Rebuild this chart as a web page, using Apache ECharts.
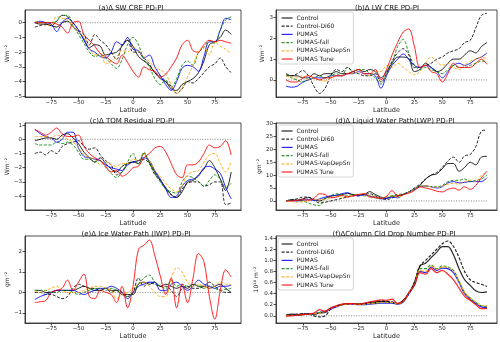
<!DOCTYPE html>
<html>
<head>
<meta charset="utf-8">
<script src="https://cdn.jsdelivr.net/npm/echarts@6/dist/echarts.min.js"></script>
<style>
  html, body { margin: 0; padding: 0; background: #fff; }
  #main { width: 500px; height: 342px; }
</style>
</head>
<body>
<div id="main"></div>
<script>
// latitude grid shared by every panel
const lat = [-90, -85, -80, -75, -70, -65, -60, -55, -50, -45, -40, -35, -30, -25, -20, -15, -10, -5, 0,
  5, 10, 15, 20, 25, 30, 35, 40, 45, 50, 55, 60, 65, 70, 75, 80, 85, 90]

const names = ['Control', 'Control-Di60', 'PUMAS', 'PUMAS-fall', 'PUMAS-VapDepSn', 'PUMAS Tune']

// (a) SW CRE
const swControl = [0, -0.1, -0.1, -0.2, -0.3, 0, 0.1, -0.3, -0.6, -1.1, -1.7, -1.5, -1.6, -2.2, -2.1, -2.0, -1.6, -1.2, -1.6, -2.3, -2.6, -2.9, -3.4, -3.8, -4.0, -4.5, -4.6, -4.2, -4.0, -3.8, -3.4, -2.6, -1.5, -1.3, -1.0, -0.5, -0.8]
const swDi60 = [-0.3, -0.2, -0.1, -0.2, 0.1, 0.5, 0.4, 0, -0.5, -0.8, -1.5, -0.8, -1.2, -1.5, -2.0, -2.5, -1.5, -1.2, -2.0, -2.0, -2.4, -2.8, -3.4, -3.6, -4.0, -4.3, -4.8, -4.5, -4.0, -4.1, -3.8, -3.4, -3.0, -2.8, -2.4, -3.0, -3.4]
const swPumas = [0, 0.1, 0, -0.1, -0.6, 0, 0.3, 0, -0.5, -1.2, -1.8, -2.0, -2.3, -2.4, -2.0, -1.3, -1.5, -1.0, -1.8, -1.9, -2.4, -2.2, -3.0, -3.6, -4.2, -4.6, -4.0, -3.1, -2.9, -3.0, -3.3, -2.3, -1.3, -1.3, -0.5, 0.3, 0.2]
const swFall = [0, 0, 0, 0, 0.1, 0.5, 0.5, -0.2, -0.8, -1.4, -2.0, -2.3, -2.2, -2.4, -2.8, -3.1, -2.5, -1.5, -1.0, -1.5, -2.5, -3.0, -3.8, -4.2, -3.9, -4.4, -3.8, -2.9, -2.6, -2.9, -2.0, -1.7, -1.2, -1.4, -0.5, 0.2, 0.4]
const swVap = [0.1, 0, -0.2, -0.1, 0.4, 0.3, 0.2, -0.3, -0.6, -1.0, -1.7, -2.2, -2.1, -2.8, -2.6, -2.3, -1.9, -2.0, -1.6, -2.0, -2.3, -2.6, -3.1, -3.2, -3.5, -4.2, -4.8, -4.4, -3.7, -2.9, -2.0, -1.6, -2.2, -1.3, -1.6, -1.8, -2.1]
const swTune = [0, 0, 0, 0, -0.1, -0.3, -0.7, 0, 0.1, -0.8, -1.2, -1.6, -2.1, -2.3, -2.6, -2.8, -2.2, -2.7, -3.3, -3.7, -3.0, -3.2, -3.3, -3.7, -3.5, -3.0, -2.4, -1.5, -1.2, -1.9, -2.0, -1.5, -1.2, -1.3, -1.2, -1.3, -1.4]

// (b) LW CRE
const lwControl = [0.3, 0.2, 0.2, 0.1, 0.1, 0.3, 0.2, 0.3, 0.3, 0.4, 0.3, 0.3, 0.4, 0.5, 0.4, 0.5, 0.4, 0.1, 0.4, 0.8, 1.1, 1.1, 1.0, 0.4, 0.5, 0.8, 0.6, 0.4, 0.5, 0.8, 1.0, 1.0, 1.2, 1.4, 1.3, 1.6, 1.8]
const lwDi60 = [0.2, 0.2, 0.3, 0.45, 0.2, -0.3, -0.65, -0.4, 0.2, 0.5, 0.4, 0.6, 0.4, 0.3, 0.2, 0.2, 0.3, -0.1, 0.3, 0.9, 1.3, 1.5, 1.2, 0.6, 0.6, 0.7, 0.8, 1.0, 1.1, 1.3, 1.4, 1.5, 1.8, 1.9, 2.5, 3.1, 3.2]
const lwPumas = [-0.3, -0.35, -0.3, -0.1, 0, 0.1, 0.1, 0.1, 0.2, 0.2, 0.2, 0.3, 0.3, 0.4, 0.3, 0.3, 0.2, -0.4, 0.2, 0.7, 1.0, 1.25, 1.0, 0.7, 0.6, 0.7, 0.6, 0.4, 0.1, 0.4, 0.7, 0.8, 0.7, 0.8, 1.0, 1.1, 1.3]
const lwFall = [0.3, 0.1, 0, -0.1, 0, 0.1, 0.2, 0.1, 0.2, 0.3, 0.2, 0.6, 0.4, 0.5, 0.5, 0.3, 0.1, -0.2, 0.3, 0.8, 1.6, 1.95, 1.3, 0.7, 0.5, 0.6, 0.5, 0.4, 0.3, 0.5, 0.7, 0.6, 0.6, 0.7, 0.8, 0.9, 0.9]
const lwVap = [0.2, 0.1, 0.1, 0.2, 0, 0.1, 0, -0.05, 0.1, 0.2, 0.2, 0.3, 0.3, 0.4, 0.3, 0.2, 0.4, 0.4, 0.7, 0.6, 0.8, 0.6, 0.4, 0.25, 0.4, 0.8, 1.1, 0.9, 0.7, 0.8, 0.6, 0.5, 0.7, 0.9, 1.0, 1.1, 1.0]
const lwTune = [0, -0.1, -0.1, 0.1, 0.2, 0.1, 0, 0.1, 0.1, 0.2, 0.2, 0.3, 0.4, 0.5, 0.3, 0.3, 0.5, 0, 0.5, 1.2, 1.8, 2.3, 2.45, 1.6, 0.6, 0.7, 0.4, 0.3, -0.1, 0.3, 0.8, 0.6, 0.6, 0.6, 0.8, 1.0, 0.75]

// (c) TOM residual
const tomControl = [-0.1, 0, 0.1, 0.1, 0, 0.3, 0.4, 0.1, -0.3, -0.9, -1.3, -1.6, -1.3, -1.7, -2.1, -2.3, -1.9, -1.7, -1.6, -1.7, -1.0, -1.6, -2.3, -2.9, -3.4, -3.9, -4.1, -3.7, -3.0, -2.9, -2.5, -2.1, -1.5, -2.0, -2.8, -3.6, -2.3]
const tomDi60 = [-1.0, -0.9, -1.1, -0.8, -1.0, -0.5, -0.3, -0.2, -0.1, -0.5, -0.7, -0.6, -1.1, -1.5, -1.8, -2.5, -2.3, -1.7, -1.6, -1.5, -1.4, -1.7, -2.5, -2.9, -3.5, -3.9, -4.1, -3.5, -3.1, -3.0, -3.0, -3.3, -3.2, -3.0, -3.0, -4.6, -4.5]
const tomPumas = [0.7, 0.4, 0.2, 0.1, -0.2, 0, 0.5, 0.5, -0.6, -1.2, -1.3, -1.4, -1.5, -1.8, -2.0, -2.1, -2.2, -1.8, -1.6, -1.5, -1.3, -1.5, -2.2, -2.8, -3.5, -4.1, -4.0, -3.3, -2.9, -2.8, -2.6, -2.0, -1.9, -2.1, -2.4, -3.4, -4.2]
const tomFall = [-0.3, -0.4, -0.4, -0.4, -0.2, -0.3, -0.2, -0.4, -0.9, -1.4, -1.4, -1.6, -1.5, -2.0, -2.4, -2.7, -2.3, -1.6, -1.0, -1.8, -0.9, -1.7, -2.4, -3.0, -3.5, -3.7, -3.8, -3.0, -2.6, -2.7, -3.0, -3.3, -2.9, -2.5, -2.8, -3.4, -3.1]
const tomVap = [0.2, 0.2, 0.2, 0.1, 0.3, 0.2, 0, -0.2, -0.6, -1.1, -1.3, -1.4, -1.8, -1.6, -1.8, -1.9, -1.7, -1.7, -1.4, -1.5, -1.0, -1.5, -2.2, -2.6, -3.1, -3.5, -3.7, -3.3, -2.5, -2.3, -2.2, -1.6, -1.1, -1.0, -1.7, -2.3, -1.6]
const tomTune = [0.7, 0.5, 0.3, 0.5, 0.8, 0.4, 0.2, 0.2, 0.3, -0.5, -1.0, -1.3, -1.5, -1.9, -2.3, -2.2, -2.6, -2.4, -2.0, -1.9, -1.3, -1.0, -0.6, -0.5, -0.9, -1.7, -2.5, -2.7, -1.8, -1.8, -1.6, -1.0, -0.4, -0.6, -0.5, -0.1, -1.1]

// (d) liquid water path
const lwpControl = [0, 0.5, 0.3, 0.8, 1.3, 0.5, 0, 1.0, 1.8, 2.2, 2.4, 3.0, 2.5, 2.5, 2.6, 3.6, 2.5, 1.5, 1.0, 1.8, 2.0, 2.5, 3.5, 4.5, 6.0, 8.5, 10.0, 10.5, 12.5, 14.5, 14.5, 11.5, 13.0, 15.0, 14.0, 17.0, 17.3]
const lwpDi60 = [0, 0.5, 0.8, 1.5, 1.5, 0.3, -0.8, -0.5, 0, 0.5, 1.0, 1.5, 2.0, 2.0, 2.5, 2.8, 2.0, 1.0, 0.5, 1.2, 1.8, 2.5, 3.5, 5.0, 6.5, 8.5, 10.0, 11.0, 13.0, 15.5, 17.0, 15.0, 17.5, 18.0, 21.0, 27.0, 27.5]
const lwpPumas = [0, 0.2, 0, 0.3, 0.5, 0.2, 0.8, 1.5, 2.0, 2.2, 2.8, 3.2, 2.3, 2.0, 2.5, 1.8, 1.2, 0.8, 1.0, 1.5, 1.2, 2.5, 3.5, 4.5, 5.5, 5.8, 5.5, 5.0, 5.5, 7.0, 7.5, 7.0, 7.2, 7.5, 7.5, 7.5, 9.0]
const lwpFall = [0, 0.3, 0.2, 0, -0.8, -1.5, -1.8, 1.0, 2.0, 2.8, 2.5, 2.2, 2.5, 2.5, 2.0, 2.2, 1.5, 1.0, 1.5, 2.0, 2.5, 2.8, 3.5, 4.8, 5.8, 5.8, 5.5, 5.5, 6.0, 7.5, 8.0, 8.0, 8.5, 7.5, 8.0, 8.5, 10.0]
const lwpVap = [0, -0.2, -0.5, -0.3, 0, 0.5, 0.5, 0.5, 1.2, 1.8, 1.5, 1.8, 2.3, 2.5, 2.8, 1.8, 1.2, 1.0, 1.8, 2.0, 1.5, 2.2, 3.5, 4.5, 5.5, 5.8, 5.5, 5.2, 5.8, 6.5, 6.8, 6.5, 7.5, 8.0, 7.5, 10.0, 11.0]
const lwpTune = [0, 0, 0.2, 0.5, 0.3, 1.0, 2.8, 2.5, 1.2, 1.5, 2.2, 1.5, 2.0, 2.5, 2.8, 1.5, 1.5, 1.0, 1.8, 4.0, 2.0, 2.5, 3.0, 4.0, 5.5, 5.0, 4.5, 3.8, 3.5, 4.5, 5.0, 4.2, 5.5, 4.5, 6.0, 9.0, 11.5]

// (e) ice water path
const iwpControl = [0.1, 0.1, 0, 0, 0.1, 0.1, 0.1, 0.1, 0.2, 0.3, 0.2, 0.1, 0.1, 0.2, 0.1, 0.1, -0.1, -0.1, -0.1, 0.4, 0.5, 0.4, 0.5, 0.3, 0.4, 0.3, 0.2, 0.3, 0.2, 0.4, 0.3, 0.3, 0.2, 0.3, 0.4, 0.2, 0]
const iwpDi60 = [0, 0, -0.1, -0.1, -0.2, -0.3, -0.2, 0.2, 0.4, 0.3, 0.2, 0.2, 0.1, 0.2, 0, 0.1, 0, -0.2, 0, 0.7, 0.3, 0.5, 0.4, 0.3, 0.3, 0.1, -0.2, 0.2, 0.3, 0.2, 0.2, 0.3, 0.5, 0.3, 0.1, 0, 0]
const iwpPumas = [-0.35, -0.2, -0.1, 0, 0.1, 0.1, 0.1, 0.1, 0, -0.1, 0, 0.1, 0.2, 0.2, 0.3, 0.2, 0, -0.3, 0, 0.3, 0.4, 0.5, 0.5, 0.1, 0.1, 0.4, 0.5, 0.3, 0.1, 0.3, 0.6, 0.4, 0.3, 0.2, 0.3, 0.3, 0.35]
const iwpFall = [0.1, 0.1, 0.1, 0, 0, 0.1, 0.1, 0, -0.1, 0, 0.1, 0.2, 0.2, 0.1, 0.2, 0.1, -0.1, -0.2, 0, 0.4, 0.7, 0.85, 0.5, 0.3, 0.2, 0.6, 0.3, 0.4, 0.3, 0.4, 0.3, 0.2, 0.3, 0.2, 0.1, 0.15, 0.2]
const iwpVap = [0.1, 0, 0.1, 0.2, 0.3, 0.1, 0, 0, 0, 0.1, 0.2, 0.3, 0.3, 0.2, 0.1, -0.3, -0.1, 0, 0.2, 0.4, 0.5, 0.3, 0, -0.2, -0.2, 0.7, 1.2, 1.0, 0.5, 0.3, 0.4, 0.3, 0.2, 0.3, 0.5, 0.4, 0.4]
const iwpTune = [-0.5, -0.45, -0.4, 0, 0.1, 0.2, 0.6, 0.1, 0.5, 0.9, -0.2, -0.3, 0.1, 0, -0.1, -0.5, 0.3, -0.75, 0.3, 2.1, 2.3, 2.55, 1.8, 0.8, -0.1, 0.7, -0.75, 0.4, -0.5, 0.7, 1.9, 1.5, -0.2, -1.3, 0.1, 1.1, 0.75]

// (f) column cloud drop number
const cdnControl = [0.01, 0.03, 0.02, 0.03, 0.04, 0.03, 0.05, 0.06, 0.14, 0.17, 0.2, 0.22, 0.22, 0.21, 0.22, 0.24, 0.25, 0.26, 0.25, 0.24, 0.22, 0.28, 0.4, 0.6, 0.9, 0.95, 1.05, 1.15, 1.25, 1.25, 1.1, 0.85, 0.65, 0.55, 0.45, 0.42, 0.43]
const cdnDi60 = [0.01, 0.02, 0.03, 0.04, 0.03, 0, -0.02, 0, 0.12, 0.18, 0.2, 0.22, 0.22, 0.21, 0.22, 0.23, 0.24, 0.27, 0.26, 0.25, 0.22, 0.27, 0.4, 0.6, 0.9, 1.0, 1.1, 1.2, 1.3, 1.35, 1.25, 1.05, 0.8, 0.65, 0.6, 0.57, 0.53]
const cdnPumas = [0, 0.01, 0.01, 0.02, 0.03, 0.04, 0.06, 0.08, 0.12, 0.16, 0.2, 0.21, 0.21, 0.2, 0.2, 0.21, 0.22, 0.23, 0.23, 0.23, 0.21, 0.25, 0.4, 0.55, 0.8, 0.78, 0.88, 0.82, 0.86, 0.85, 0.78, 0.6, 0.4, 0.3, 0.22, 0.16, 0.15]
const cdnFall = [0, 0.01, 0.01, 0.02, 0.03, 0.04, 0.06, 0.08, 0.13, 0.17, 0.2, 0.21, 0.22, 0.21, 0.21, 0.22, 0.23, 0.24, 0.24, 0.24, 0.22, 0.26, 0.42, 0.57, 0.85, 0.85, 0.92, 0.85, 0.9, 0.88, 0.82, 0.62, 0.42, 0.32, 0.24, 0.18, 0.17]
const cdnVap = [0, 0.01, 0.01, 0.02, 0.03, 0.04, 0.05, 0.08, 0.13, 0.17, 0.2, 0.21, 0.21, 0.2, 0.21, 0.22, 0.23, 0.24, 0.24, 0.24, 0.22, 0.26, 0.41, 0.56, 0.82, 0.8, 0.9, 0.84, 0.88, 0.87, 0.8, 0.62, 0.42, 0.32, 0.25, 0.19, 0.18]
const cdnTune = [0, 0, 0.01, 0.02, 0.03, 0.05, 0.11, 0.08, 0.14, 0.18, 0.21, 0.22, 0.22, 0.21, 0.23, 0.25, 0.27, 0.29, 0.28, 0.3, 0.22, 0.26, 0.42, 0.55, 0.78, 0.75, 0.85, 0.78, 0.82, 0.75, 0.65, 0.5, 0.35, 0.28, 0.2, 0.13, 0.13]

const latTicks = [-75, -50, -25, 0, 25, 50, 75]

const panels = [
  { title: '(a)\u0394 SW CRE PD-PI', tx: 126, unit: 'Wm\u207b\u00b2', min: -5.05, max: 0.86, ticks: [-5, -4, -3, -2, -1, 0],
    lines: [swControl, swDi60, swPumas, swFall, swVap, swTune] },
  { title: '(b)\u0394 LW CRE PD-PI', tx: 382, unit: 'Wm\u207b\u00b2', min: -0.82, max: 3.36, ticks: [0, 1, 2, 3],
    lines: [lwControl, lwDi60, lwPumas, lwFall, lwVap, lwTune], legend: true },
  { title: '(c)\u0394 TOM Residual PD-PI', tx: 127, unit: 'Wm\u207b\u00b2', min: -4.98, max: 1.15, ticks: [-4, -3, -2, -1, 0, 1],
    lines: [tomControl, tomDi60, tomPumas, tomFall, tomVap, tomTune] },
  { title: '(d)\u0394 Liquid Water Path(LWP) PD-PI', tx: 390, unit: 'gm\u207b\u00b2', min: -3.5, max: 30.2, ticks: [0, 5, 10, 15, 20, 25, 30],
    lines: [lwpControl, lwpDi60, lwpPumas, lwpFall, lwpVap, lwpTune], legend: true },
  { title: '(e)\u0394 Ice Water Path (IWP) PD-PI', tx: 131, unit: 'gm\u207b\u00b2', min: -1.49, max: 2.75, ticks: [-1, 0, 1, 2],
    lines: [iwpControl, iwpDi60, iwpPumas, iwpFall, iwpVap, iwpTune] },
  { title: '(f)\u0394Column Cld Drop Number PD-PI', tx: 389, unit: '10\u00b9\u2070 m\u207b\u00b2', min: -0.13, max: 1.44, ticks: [0, 0.2, 0.4, 0.6, 0.8, 1.0, 1.2, 1.4],
    lines: [cdnControl, cdnDi60, cdnPumas, cdnFall, cdnVap, cdnTune], legend: true, fixed: 1 }
]

const colors = ['#000000', '#000000', '#0000ff', '#008000', '#ffa500', '#ff0000']
const dashed = [false, true, false, true, true, false]
const font = 'DejaVu Sans'

function minus(v, fixed) {
  const s = fixed ? Math.abs(v).toFixed(fixed) : String(Math.abs(v))
  return (v < -1e-9 ? '\u2212' : '') + s
}

const chart = echarts.init(document.getElementById('main'), null, { renderer: 'canvas' })

const grid = [], xAxis = [], yAxis = [], series = [], title = [], legend = []

panels.forEach((p, i) => {
  const col = i % 2, row = Math.floor(i / 2)
  const left = col === 0 ? 25 : 276
  const width = col === 0 ? 216 : 221
  const top = 10 + row * 113
  grid.push({ left: left, top: top, width: width, height: 87, show: true, borderColor: '#222', borderWidth: 0.8, containLabel: false })
  title.push({ text: p.title, left: p.tx, top: top - 10, textAlign: 'center',
    textStyle: { fontFamily: font, fontSize: 7, fontWeight: 'normal', color: '#111' } })
  xAxis.push({
    type: 'value', gridIndex: i, min: -99, max: 99,
    name: 'Latitude', nameLocation: 'middle', nameGap: 10,
    nameTextStyle: { fontFamily: font, fontSize: 6.5, color: '#222' },
    axisLine: { onZero: false, lineStyle: { color: '#222', width: 0.8 } },
    axisTick: { length: 2.5, customValues: latTicks, lineStyle: { color: '#222', width: 0.8 } },
    axisLabel: { customValues: latTicks, fontFamily: font, fontSize: 5.5, color: '#222', margin: 3, formatter: v => minus(v) },
    splitLine: { show: false }
  })
  yAxis.push({
    type: 'value', gridIndex: i, min: p.min, max: p.max,
    name: p.unit, nameLocation: 'middle', nameGap: p.fixed ? 17 : 11, nameRotate: 90,
    nameTextStyle: { fontFamily: font, fontSize: 6, color: '#222' },
    axisLine: { onZero: false, lineStyle: { color: '#222', width: 0.8 } },
    axisTick: { length: 2.5, customValues: p.ticks, lineStyle: { color: '#222', width: 0.8 } },
    axisLabel: { customValues: p.ticks, fontFamily: font, fontSize: 5.5, color: '#222', margin: 3, formatter: v => minus(v, p.fixed) },
    splitLine: { show: false }
  })
  // zero reference line
  series.push({
    name: 'zero', type: 'line', xAxisIndex: i, yAxisIndex: i, silent: true, symbol: 'none',
    data: [[-90, 0], [90, 0]], lineStyle: { color: '#666', width: 0.8, type: [1, 1.5] }, z: 1
  })
  p.lines.forEach((vals, k) => {
    series.push({
      name: names[k], type: 'line', xAxisIndex: i, yAxisIndex: i, silent: true,
      symbol: 'none', smooth: 0.35,
      data: lat.map((x, j) => [x, vals[j]]),
      itemStyle: { color: colors[k] },
      lineStyle: { color: colors[k], width: p.fixed ? 1.2 : 1, opacity: 0.85, type: dashed[k] ? [3, 1.6] : 'solid' },
      z: 2 + k
    })
  })
  if (p.legend) {
    legend.push({
      data: names, orient: 'vertical', left: left + 2, top: top + 2,
      padding: [3, 3, 2, 3], itemWidth: 11, itemHeight: 6, itemGap: 2.2,
      itemStyle: { opacity: 0 },
      lineStyle: { width: 1.2 },
      backgroundColor: 'rgba(255,255,255,0.8)', borderColor: '#ccc', borderWidth: 0.8, borderRadius: 2,
      textStyle: { fontFamily: font, fontSize: 6, color: '#222', padding: [0, 0, 0, -1] },
      selectedMode: false
    })
  }
})

chart.setOption({
  animation: false,
  backgroundColor: '#fff',
  title: title,
  grid: grid,
  xAxis: xAxis,
  yAxis: yAxis,
  legend: legend,
  series: series
})
</script>
</body>
</html>
